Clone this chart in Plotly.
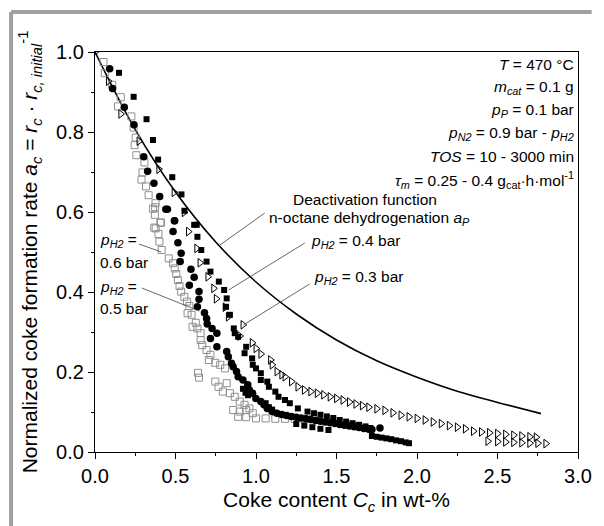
import plotly.graph_objects as go

# ---- data ----
# p_H2 = 0.4 bar : filled squares
sq_x = [0.149, 0.24, 0.32, 0.36, 0.392, 0.48, 0.537, 0.556, 0.616, 0.632, 0.636, 0.66, 0.693, 0.717,
        0.769, 0.802, 0.818, 0.814, 0.838, 0.862, 0.868, 0.889, 0.939, 0.929, 0.976, 0.98, 1.0, 1.03,
        1.03, 1.07, 1.08, 1.12, 1.14, 1.18, 1.21, 1.26, 1.32, 0.919, 0.935, 0.95, 1.06, 1.08, 1.1,
        1.36, 1.4, 1.44, 1.48, 1.52, 1.56, 1.6, 1.64, 1.68, 1.71, 1.72, 1.75, 1.78, 1.81, 1.84,
        1.87, 1.9, 1.93, 1.95, 1.25, 1.3, 1.35, 1.4, 1.45]
sq_y = [0.948, 0.888, 0.832, 0.78, 0.731, 0.687, 0.644, 0.603, 0.568, 0.568, 0.538, 0.505, 0.476, 0.451,
        0.426, 0.405, 0.384, 0.363, 0.343, 0.309, 0.297, 0.288, 0.263, 0.247, 0.234, 0.218, 0.209, 0.197,
        0.18, 0.176, 0.163, 0.151, 0.138, 0.13, 0.122, 0.109, 0.101, 0.158, 0.148, 0.142, 0.122, 0.112, 0.106,
        0.097, 0.093, 0.089, 0.085, 0.08, 0.076, 0.072, 0.068, 0.064, 0.06, 0.04, 0.038, 0.036, 0.034, 0.032,
        0.029, 0.027, 0.024, 0.022, 0.07, 0.066, 0.062, 0.058, 0.055]

# p_H2 = 0.3 bar : open right triangles
tr_x = [0.0, 0.083, 0.16, 0.273, 0.396, 0.491, 0.554, 0.58, 0.632, 0.652, 0.701, 0.737, 0.753, 0.808,
        0.828, 0.919, 0.899, 0.976, 1.0, 1.03, 1.09, 1.1, 1.13, 1.16, 1.18, 1.22, 1.26, 1.3, 1.34, 1.38,
        1.42, 1.46, 1.5, 1.54, 1.58, 1.62, 1.66, 1.7, 1.75, 1.8, 1.85, 1.9, 1.95, 2.0, 2.05, 2.1, 2.15,
        2.2, 2.25, 2.3, 2.35, 2.4, 2.45, 2.5, 2.55, 2.6, 2.65, 2.7, 2.74, 2.44, 2.5, 2.55, 2.6, 2.65,
        2.7, 2.75, 2.8]
tr_y = [1.0, 0.927, 0.845, 0.777, 0.707, 0.649, 0.599, 0.551, 0.509, 0.473, 0.438, 0.409, 0.383, 0.362,
        0.338, 0.318, 0.29, 0.273, 0.259, 0.245, 0.23, 0.218, 0.201, 0.193, 0.188, 0.176, 0.163, 0.155,
        0.151, 0.147, 0.143, 0.138, 0.134, 0.13, 0.125, 0.12, 0.116, 0.112, 0.108, 0.104, 0.098, 0.092,
        0.088, 0.084, 0.08, 0.075, 0.071, 0.066, 0.062, 0.058, 0.052, 0.05, 0.048, 0.046, 0.044, 0.042,
        0.04, 0.038, 0.037, 0.027, 0.026, 0.025, 0.024, 0.023, 0.022, 0.022, 0.021]

# p_H2 = 0.5 bar : filled circles
ci_x = [0.091, 0.109, 0.182, 0.242, 0.303, 0.327, 0.366, 0.402, 0.44, 0.493, 0.45, 0.495, 0.485, 0.515,
        0.535, 0.529, 0.596, 0.616, 0.586, 0.646, 0.646, 0.636, 0.68, 0.693, 0.697, 0.727, 0.757, 0.717,
        0.757, 0.818, 0.828, 0.848, 0.858, 0.879, 0.889, 0.919, 0.949, 0.959, 0.979, 0.999, 1.03, 1.05,
        1.07, 1.1, 1.13, 1.16, 1.19, 1.22, 1.25, 1.28, 1.31, 1.34, 1.37, 1.4, 1.43, 1.46, 1.49, 1.52,
        1.55, 1.58, 1.61, 1.64, 1.67, 1.7, 1.72, 1.77]
ci_y = [0.958, 0.909, 0.862, 0.818, 0.738, 0.702, 0.672, 0.639, 0.607, 0.578, 0.607, 0.578, 0.551, 0.523,
        0.497, 0.476, 0.457, 0.437, 0.417, 0.401, 0.382, 0.363, 0.348, 0.334, 0.32, 0.309, 0.297, 0.284,
        0.263, 0.251, 0.238, 0.222, 0.213, 0.201, 0.188, 0.18, 0.168, 0.155, 0.147, 0.134, 0.126, 0.118,
        0.109, 0.101, 0.097, 0.094, 0.091, 0.089, 0.087, 0.085, 0.083, 0.081, 0.079, 0.077, 0.075, 0.073,
        0.071, 0.069, 0.067, 0.065, 0.063, 0.061, 0.059, 0.057, 0.056, 0.06]

# p_H2 = 0.6 bar : open grey squares
gs_x = [0.053, 0.061, 0.107, 0.16, 0.143, 0.226, 0.24, 0.253, 0.246, 0.257, 0.307, 0.295, 0.289, 0.317,
        0.333, 0.376, 0.36, 0.372, 0.406, 0.368, 0.373, 0.41, 0.377, 0.394, 0.4, 0.414, 0.458, 0.485,
        0.495, 0.505, 0.515, 0.525, 0.535, 0.555, 0.571, 0.586, 0.575, 0.6, 0.626, 0.636, 0.606, 0.656,
        0.656, 0.666, 0.693, 0.717, 0.707, 0.747, 0.778, 0.808, 0.64, 0.646, 0.747, 0.767, 0.818, 0.794,
        0.838, 0.868, 0.899, 0.929, 0.959, 0.858, 0.899, 0.939, 0.98, 0.889, 0.939, 1.0, 1.06, 1.12,
        1.18, 1.24, 1.3, 1.35]
gs_y = [0.975, 0.947, 0.918, 0.887, 0.864, 0.839, 0.811, 0.786, 0.767, 0.742, 0.724, 0.699, 0.681, 0.664,
        0.642, 0.622, 0.608, 0.593, 0.574, 0.561, 0.612, 0.573, 0.559, 0.545, 0.526, 0.505, 0.484, 0.472,
        0.459, 0.445, 0.43, 0.415, 0.401, 0.388, 0.376, 0.365, 0.347, 0.343, 0.323, 0.309, 0.313, 0.297,
        0.28, 0.267, 0.255, 0.243, 0.23, 0.223, 0.218, 0.209, 0.198, 0.186, 0.176, 0.163, 0.172, 0.151,
        0.147, 0.138, 0.126, 0.118, 0.109, 0.105, 0.101, 0.105, 0.097, 0.088, 0.087, 0.084, 0.084, 0.083,
        0.083, 0.083, 0.082, 0.082]

# deactivation function of n-octane dehydrogenation
fn_x = [0.0, 0.25, 0.5, 0.75, 1.0, 1.25, 1.5, 1.75, 2.0, 2.25, 2.5, 2.77]
fn_y = [1.0, 0.806, 0.65, 0.525, 0.425, 0.345, 0.28, 0.228, 0.187, 0.152, 0.124, 0.096]

x_ticks = [0.0, 0.5, 1.0, 1.5, 2.0, 2.5, 3.0]
x_ticklabels = ["0.0", "0.5", "1.0", "1.5", "2.0", "2.5", "3.0"]
y_ticks = [0.0, 0.2, 0.4, 0.6, 0.8, 1.0]
y_ticklabels = ["0.0", "0.2", "0.4", "0.6", "0.8", "1.0"]

FONT = "Arial, 'Liberation Sans', sans-serif"
ANN_SIZE = 15.5

fig = go.Figure()
fig.add_trace(go.Scatter(x=fn_x, y=fn_y, mode="lines", line=dict(color="black", width=1.6, shape="spline"),
                         showlegend=False, hoverinfo="skip"))
fig.add_trace(go.Scatter(x=gs_x, y=gs_y, mode="markers",
                         marker=dict(symbol="square-open", size=7, color="#8f8f8f", line=dict(width=1)),
                         name="p_H2 = 0.6 bar", showlegend=False))
fig.add_trace(go.Scatter(x=ci_x, y=ci_y, mode="markers",
                         marker=dict(symbol="circle", size=7.5, color="black"),
                         name="p_H2 = 0.5 bar", showlegend=False))
fig.add_trace(go.Scatter(x=sq_x, y=sq_y, mode="markers",
                         marker=dict(symbol="square", size=6, color="black"),
                         name="p_H2 = 0.4 bar", showlegend=False))
fig.add_trace(go.Scatter(x=tr_x, y=tr_y, mode="markers",
                         marker=dict(symbol="triangle-right-open", size=7.5, color="black", line=dict(width=1)),
                         name="p_H2 = 0.3 bar", showlegend=False))

W, H = 604, 526
ML, MR, MT, MB = 95, 14, 52, 74

def px2x(px):
    return (px - ML) / (W - ML - MR) * 3.0

def py2y(py):
    return (H - MB - py) / (H - MT - MB) * 1.0

# leader lines (in data coords, converted from pixel positions)
leaders = [((269, 213), (223, 245)), ((310, 243), (232, 290)), ((315, 284), (247, 325)),
           ((140, 244), (163, 252)), ((143, 288), (202, 311))]
for (a, b) in leaders:
    fig.add_shape(type="line", xref="x", yref="y", x0=px2x(a[0]), y0=py2y(a[1]), x1=px2x(b[0]), y1=py2y(b[1]),
                  line=dict(color="#404040", width=0.8))

anns = []
def ann(text, px, py, xanchor="left"):
    anns.append(dict(text=text, x=px2x(px), y=py2y(py), xref="x", yref="y", showarrow=False,
                     xanchor=xanchor, yanchor="middle", font=dict(family=FONT, size=ANN_SIZE, color="black")))

block = ["<i>T</i> = 470 °C",
         "<i>m<sub>cat</sub></i> = 0.1 g",
         "<i>p<sub>P</sub></i> = 0.1 bar",
         "<i>p<sub>N2</sub></i> = 0.9 bar - <i>p<sub>H2</sub></i>",
         "<i>TOS</i> = 10 - 3000 min",
         "<i>τ<sub>m</sub></i> = 0.25 - 0.4 g<sub>cat</sub>·h·mol<sup>-1</sup>"]
block_py = [64, 87, 110, 133, 156, 180]
for t, p in zip(block, block_py):
    ann(t, 588, p, "right")

ann("Deactivation function", 372, 199, "center")
ann("n-octane dehydrogenation <i>a<sub>P</sub></i>", 376, 218, "center")
ann("<i>p<sub>H2</sub></i> = 0.4 bar", 314, 241)
ann("<i>p<sub>H2</sub></i> = 0.3 bar", 317, 277)
ann("<i>p<sub>H2</sub></i> =", 98, 240)
ann("0.6 bar", 98, 262)
ann("<i>p<sub>H2</sub></i> =", 98, 287)
ann("0.5 bar", 98, 308)

# grey outer frame (top and left)
fx = -(ML - 9) / (W - ML - MR)
fy = 1 + (MT - 12) / (H - MT - MB)
fig.add_shape(type="line", xref="paper", yref="paper", x0=fx, x1=1 + MR / (W - ML - MR), y0=fy, y1=fy,
              line=dict(color="#a0a0a0", width=4))
fig.add_shape(type="line", xref="paper", yref="paper", x0=fx, x1=fx, y0=fy, y1=-MB / (H - MT - MB),
              line=dict(color="#a0a0a0", width=4))

fig.update_layout(
    width=W, height=H, margin=dict(l=ML, r=MR, t=MT, b=MB),
    paper_bgcolor="white", plot_bgcolor="white",
    font=dict(family=FONT, color="black"),
    annotations=anns,
    xaxis=dict(range=[0, 3.0], tickmode="array", tickvals=x_ticks, ticktext=x_ticklabels,
               ticks="outside", ticklen=6, tickwidth=1.2, tickcolor="black",
               minor=dict(ticks="outside", ticklen=3, tickwidth=1.2, tickcolor="black", dtick=0.25),
               showline=True, linecolor="black", linewidth=1.3, mirror=True, showgrid=False, zeroline=False,
               tickfont=dict(size=20, family=FONT),
               title=dict(text="Coke content <i>C<sub>c</sub></i> in wt-%", font=dict(size=21, family=FONT), standoff=6)),
    yaxis=dict(range=[0, 1.0], tickmode="array", tickvals=y_ticks, ticktext=y_ticklabels,
               ticks="outside", ticklen=6, tickwidth=1.2, tickcolor="black",
               minor=dict(ticks="outside", ticklen=3, tickwidth=1.2, tickcolor="black", dtick=0.1),
               showline=True, linecolor="black", linewidth=1.3, mirror=True, showgrid=False, zeroline=False,
               tickfont=dict(size=20, family=FONT),
               title=dict(text="Normalized coke formation rate <i>a<sub>c</sub></i> = <i>r<sub>c</sub></i> · <i>r</i><sub><i>c, initial</i></sub><sup>-1</sup>",
                          font=dict(size=21, family=FONT), standoff=12)),
)

fig.write_html("out.html")
